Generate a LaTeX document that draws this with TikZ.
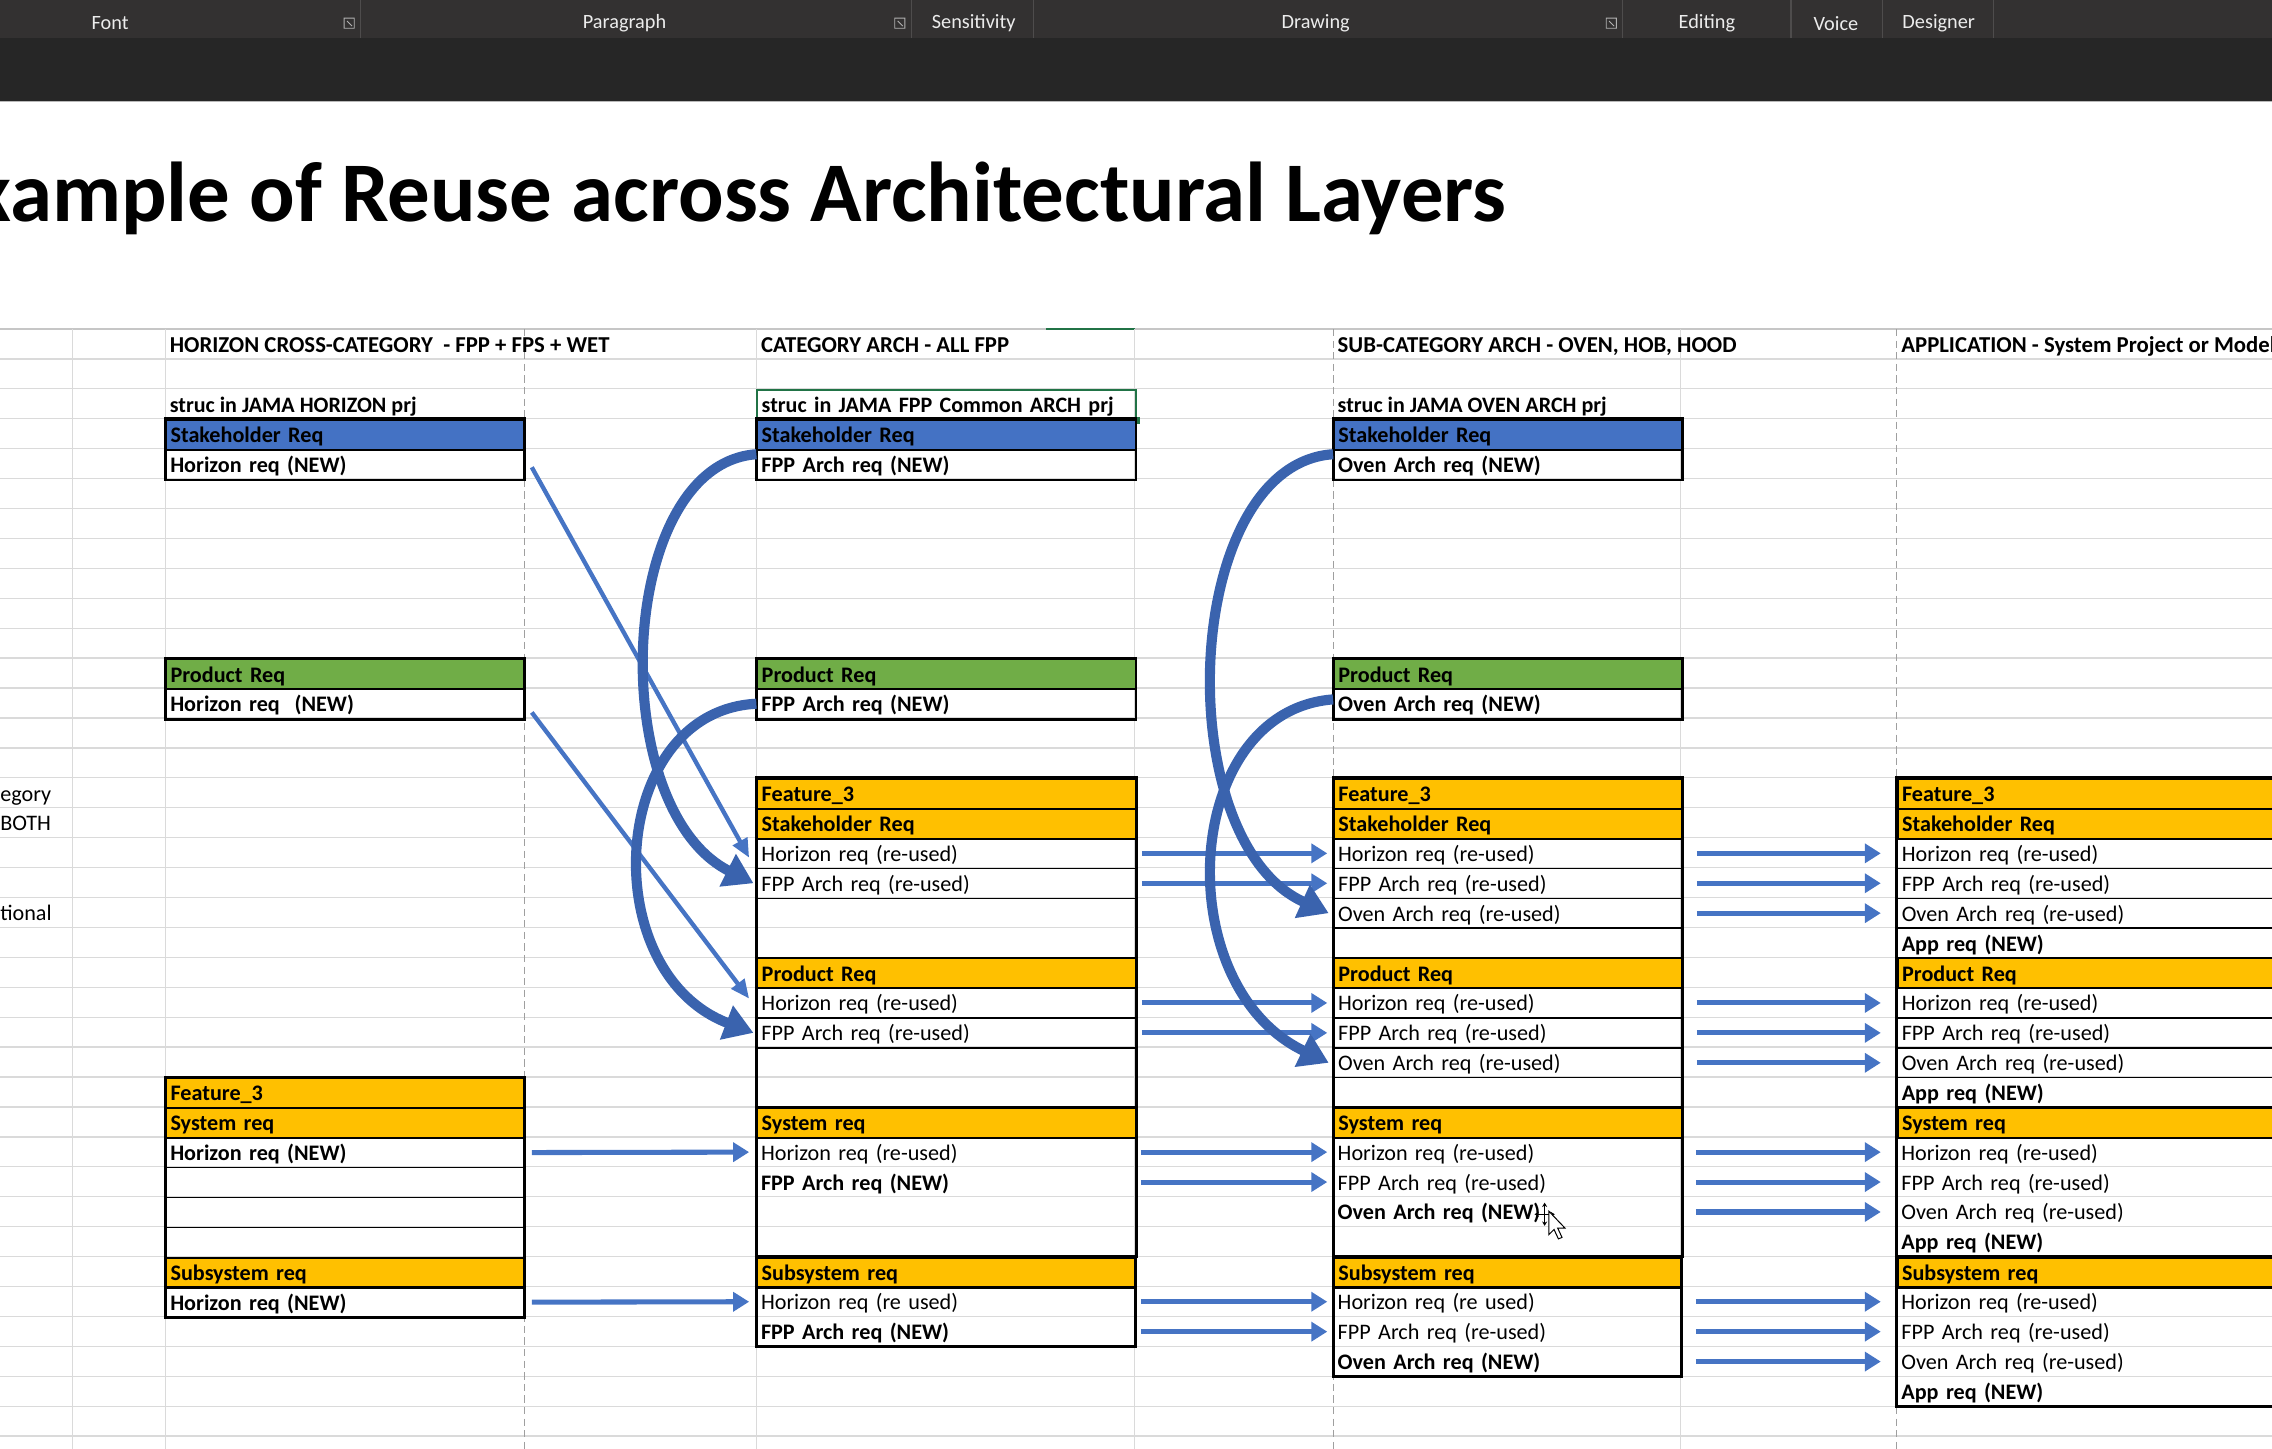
\documentclass[tikz,border=0pt]{standalone}
\usepackage{fontspec}
\setmainfont{Carlito}
\usepackage{xcolor}
\usepackage{tikz}
\usetikzlibrary{arrows.meta, positioning}
\definecolor{xlblue}{HTML}{4472C4}
\definecolor{xlgreen}{HTML}{70AD47}
\definecolor{xlgold}{HTML}{FFC000}
\definecolor{arrowblue}{HTML}{4674C4}
\definecolor{curveblue}{HTML}{3A63AE}
\definecolor{gridgray}{HTML}{DADADA}
\definecolor{ribbontop}{HTML}{333131}
\definecolor{ribbonlow}{HTML}{262626}
\definecolor{selgreen}{HTML}{217346}
\newcommand{\rowtop}[1]{289+(#1)*20.65}
\newcommand{\cellfont}{\fontsize{15.3}{16}\selectfont}
\newcommand{\headfont}{\fontsize{15.7}{16}\selectfont\bfseries}
\newcommand{\strucfont}{\fontsize{15.2}{16}\selectfont\bfseries}
\newcommand{\reqcell}[5]{\node[#4] (#1) at (#2,{\rowtop{#3}}) {#5};}
\tikzstyle{req} = [rectangle, anchor=north west, minimum height=20.65pt, inner ysep=0pt, inner xsep=3pt, text height=12pt, text depth=1pt, align=left, font=\cellfont]
\tikzstyle{new} = [font=\cellfont\bfseries]
\tikzstyle{reqline} = [req, draw=black, line width=1pt]
\tikzstyle{hdrblue} = [req, new, fill=xlblue, draw=black, line width=1.4pt]
\tikzstyle{hdrgreen} = [req, new, fill=xlgreen, draw=black, line width=1.4pt]
\tikzstyle{hdrgold} = [req, new, fill=xlgold, draw=black, line width=1.4pt]
\tikzstyle{hcol} = [text width=241pt]
\tikzstyle{ccol} = [text width=255pt]
\tikzstyle{scol} = [text width=234pt]
\tikzstyle{acol} = [text width=294pt]
\tikzstyle{blockframe} = [draw=black, line width=2pt]
\tikzstyle{gridline} = [draw=gridgray, line width=0.9pt]
\tikzstyle{pagebreak} = [draw=gray!75, line width=0.8pt, dash pattern=on 5pt off 3pt]
\tikzstyle{flow} = [draw=arrowblue, line width=3.5pt, -{Triangle[width=13pt,length=11pt]}]
\tikzstyle{cross} = [draw=arrowblue, line width=3pt, -{Triangle[width=11pt,length=13pt]}]
\tikzstyle{reuse} = [draw=curveblue, line width=7pt, -{Triangle[width=24pt,length=20pt]}]
\tikzstyle{ribbon} = [font=\fontsize{14}{14}\selectfont, text=gray!15, inner sep=0pt]
\begin{document}
\begin{tikzpicture}[x=1pt, y=-1pt]
		\useasboundingbox (0,0) rectangle (1568,1000);
		\clip (0,0) rectangle (1568,1000);
		% ribbon of the window
		\fill[ribbontop] (0,0) rectangle (1568,26.5);
		\fill[ribbonlow] (0,26.5) rectangle (1568,70);
		\draw[gray!55, line width=1pt] (0,70) -- (1568,70);
		\foreach \x in {249,629,713,1120,1236,1299,1376}
			\draw[gray!35!ribbontop, line width=0.8pt] (\x,0) -- (\x,26);
		\foreach \x in {241,621,1112}
			\draw[gray!60, line width=0.6pt] ({\x-3.5},12.5) rectangle ({\x+3.5},19.5) ({\x-1.5},14.5) -- ({\x+2},18);
		\node (Font)[ribbon] at (76,16) {Font};
		\node (Paragraph)[ribbon] at (431,16) {Paragraph};
		\node (Sensitivity)[ribbon] at (672,16) {Sensitivity};
		\node (Drawing)[ribbon] at (908,16) {Drawing};
		\node (Editing)[ribbon] at (1178,16) {Editing};
		\node (Voice)[ribbon] at (1267,16) {Voice};
		\node (Designer)[ribbon] at (1338,16) {Designer};
		% title
		\node (Title)[anchor=base east, inner sep=0pt, font=\fontsize{58.6}{60}\selectfont\bfseries] at (1040,153) {Example of Reuse across Architectural Layers};
		% sheet grid
		\foreach \r in {-2,...,34}
			\draw[gridline] (0,{\rowtop{\r}}) -- (1568,{\rowtop{\r}});
		\draw[gray!45, line width=1pt] (0,{\rowtop{-3}}) -- (1568,{\rowtop{-3}});
		\draw[selgreen, line width=1.2pt] (722,{\rowtop{-3}}) -- (783,{\rowtop{-3}});
		\foreach \x in {50,114,522,783,1160}
			\draw[gridline] (\x,{\rowtop{-3}}) -- (\x,1000);
		\foreach \x in {362,920,1309}
			\draw[pagebreak] (\x,{\rowtop{-3}}) -- (\x,1000);
		% cut-off notes on the left
		\reqcell{Note a}{-3}{12}{req}{egory}
		\reqcell{Note b}{-3}{13}{req}{BOTH}
		\reqcell{Note c}{-3}{16}{req}{tional}
		% column heads
		\reqcell{Horizon Head}{114}{-3}{req, font=\headfont}{HORIZON CROSS-CATEGORY\ \ - FPP + FPS + WET}
		\reqcell{Category Head}{522}{-3}{req, font=\headfont}{CATEGORY ARCH - ALL FPP}
		\reqcell{Sub Head}{920}{-3}{req, font=\headfont}{SUB-CATEGORY ARCH - OVEN, HOB, HOOD}
		\reqcell{App Head}{1309}{-3}{req, font=\headfont}{APPLICATION - System Project or Model}
		\reqcell{Horizon Struc}{114}{-1}{req, font=\strucfont}{struc in JAMA HORIZON prj}
		\reqcell{Category Struc}{522}{-1}{req, ccol, font=\strucfont, draw=selgreen, line width=1.4pt}{struc in JAMA FPP Common ARCH prj}
		\fill[selgreen] ([xshift=-2.5pt, yshift=-2.5pt]Category Struc.south east) rectangle ([xshift=2.5pt, yshift=2.5pt]Category Struc.south east);
		\reqcell{Sub Struc}{920}{-1}{req, font=\strucfont}{struc in JAMA OVEN ARCH prj}
		% horizon column
		\reqcell{H0}{114}{0}{hdrblue, hcol}{Stakeholder Req}
		\reqcell{H1}{114}{1}{reqline, new, hcol}{Horizon req (NEW)}
		\reqcell{H8}{114}{8}{hdrgreen, hcol}{Product Req}
		\reqcell{H9}{114}{9}{reqline, new, hcol}{Horizon req\ \ (NEW)}
		\reqcell{H22}{114}{22}{hdrgold, hcol}{Feature\_3}
		\reqcell{H23}{114}{23}{hdrgold, hcol}{System req}
		\reqcell{H24}{114}{24}{reqline, new, hcol}{Horizon req (NEW)}
		\reqcell{H25}{114}{25}{reqline, hcol}{}
		\reqcell{H26}{114}{26}{reqline, hcol}{}
		\reqcell{H27}{114}{27}{reqline, hcol}{}
		\reqcell{H28}{114}{28}{hdrgold, hcol}{Subsystem req}
		\reqcell{H29}{114}{29}{reqline, new, hcol}{Horizon req (NEW)}
		\draw[blockframe] (H0.north west) rectangle (H1.south east);
		\draw[blockframe] (H8.north west) rectangle (H9.south east);
		\draw[blockframe] (H22.north west) rectangle (H29.south east);
		% category column
		\reqcell{C0}{522}{0}{hdrblue, ccol}{Stakeholder Req}
		\reqcell{C1}{522}{1}{reqline, new, ccol}{FPP Arch req (NEW)}
		\reqcell{C8}{522}{8}{hdrgreen, ccol}{Product Req}
		\reqcell{C9}{522}{9}{reqline, new, ccol}{FPP Arch req (NEW)}
		\reqcell{C12}{522}{12}{hdrgold, ccol}{Feature\_3}
		\reqcell{C13}{522}{13}{hdrgold, ccol}{Stakeholder Req}
		\reqcell{C14}{522}{14}{reqline, ccol}{Horizon req (re-used)}
		\reqcell{C15}{522}{15}{reqline, ccol}{FPP Arch req (re-used)}
		\reqcell{C18}{522}{18}{hdrgold, ccol}{Product Req}
		\reqcell{C19}{522}{19}{reqline, ccol}{Horizon req (re-used)}
		\reqcell{C20}{522}{20}{reqline, ccol}{FPP Arch req (re-used)}
		\reqcell{C23}{522}{23}{hdrgold, ccol}{System req}
		\reqcell{C24}{522}{24}{req, ccol}{Horizon req (re-used)}
		\reqcell{C25}{522}{25}{req, new, ccol}{FPP Arch req (NEW)}
		\reqcell{C28}{522}{28}{hdrgold, ccol}{Subsystem req}
		\reqcell{C29}{522}{29}{req, ccol}{Horizon req (re used)}
		\reqcell{C30}{522}{30}{req, new, ccol}{FPP Arch req (NEW)}
		\draw[blockframe] (C0.north west) rectangle (C1.south east);
		\draw[blockframe] (C8.north west) rectangle (C9.south east);
		\draw[blockframe] (C12.north west) rectangle (C23.north east);
		\draw[blockframe] (C23.north west) rectangle (C28.north east);
		\draw[blockframe] (C28.north west) rectangle (C30.south east);
		% sub-category column
		\reqcell{S0}{920}{0}{hdrblue, scol}{Stakeholder Req}
		\reqcell{S1}{920}{1}{reqline, new, scol}{Oven Arch req (NEW)}
		\reqcell{S8}{920}{8}{hdrgreen, scol}{Product Req}
		\reqcell{S9}{920}{9}{reqline, new, scol}{Oven Arch req (NEW)}
		\reqcell{S12}{920}{12}{hdrgold, scol}{Feature\_3}
		\reqcell{S13}{920}{13}{hdrgold, scol}{Stakeholder Req}
		\reqcell{S14}{920}{14}{reqline, scol}{Horizon req (re-used)}
		\reqcell{S15}{920}{15}{reqline, scol}{FPP Arch req (re-used)}
		\reqcell{S16}{920}{16}{reqline, scol}{Oven Arch req (re-used)}
		\reqcell{S18}{920}{18}{hdrgold, scol}{Product Req}
		\reqcell{S19}{920}{19}{reqline, scol}{Horizon req (re-used)}
		\reqcell{S20}{920}{20}{reqline, scol}{FPP Arch req (re-used)}
		\reqcell{S21}{920}{21}{reqline, scol}{Oven Arch req (re-used)}
		\reqcell{S23}{920}{23}{hdrgold, scol}{System req}
		\reqcell{S24}{920}{24}{req, scol}{Horizon req (re-used)}
		\reqcell{S25}{920}{25}{req, scol}{FPP Arch req (re-used)}
		\reqcell{S26}{920}{26}{req, new, scol}{Oven Arch req (NEW)}
		\reqcell{S28}{920}{28}{hdrgold, scol}{Subsystem req}
		\reqcell{S29}{920}{29}{req, scol}{Horizon req (re used)}
		\reqcell{S30}{920}{30}{req, scol}{FPP Arch req (re-used)}
		\reqcell{S31}{920}{31}{req, new, scol}{Oven Arch req (NEW)}
		\draw[blockframe] (S0.north west) rectangle (S1.south east);
		\draw[blockframe] (S8.north west) rectangle (S9.south east);
		\draw[blockframe] (S12.north west) rectangle (S23.north east);
		\draw[blockframe] (S23.north west) rectangle (S28.north east);
		\draw[blockframe] (S28.north west) rectangle (S31.south east);
		% application column
		\reqcell{A12}{1309}{12}{hdrgold, acol}{Feature\_3}
		\reqcell{A13}{1309}{13}{hdrgold, acol}{Stakeholder Req}
		\reqcell{A14}{1309}{14}{reqline, acol}{Horizon req (re-used)}
		\reqcell{A15}{1309}{15}{reqline, acol}{FPP Arch req (re-used)}
		\reqcell{A16}{1309}{16}{reqline, acol}{Oven Arch req (re-used)}
		\reqcell{A17}{1309}{17}{reqline, new, acol}{App req (NEW)}
		\reqcell{A18}{1309}{18}{hdrgold, acol}{Product Req}
		\reqcell{A19}{1309}{19}{reqline, acol}{Horizon req (re-used)}
		\reqcell{A20}{1309}{20}{reqline, acol}{FPP Arch req (re-used)}
		\reqcell{A21}{1309}{21}{reqline, acol}{Oven Arch req (re-used)}
		\reqcell{A22}{1309}{22}{reqline, new, acol}{App req (NEW)}
		\reqcell{A23}{1309}{23}{hdrgold, acol}{System req}
		\reqcell{A24}{1309}{24}{req, acol}{Horizon req (re-used)}
		\reqcell{A25}{1309}{25}{req, acol}{FPP Arch req (re-used)}
		\reqcell{A26}{1309}{26}{req, acol}{Oven Arch req (re-used)}
		\reqcell{A27}{1309}{27}{req, new, acol}{App req (NEW)}
		\reqcell{A28}{1309}{28}{hdrgold, acol}{Subsystem req}
		\reqcell{A29}{1309}{29}{req, acol}{Horizon req (re-used)}
		\reqcell{A30}{1309}{30}{req, acol}{FPP Arch req (re-used)}
		\reqcell{A31}{1309}{31}{req, acol}{Oven Arch req (re-used)}
		\reqcell{A32}{1309}{32}{req, new, acol}{App req (NEW)}
		\draw[blockframe] (A12.north west) rectangle (A23.north east);
		\draw[blockframe] (A23.north west) rectangle (A28.north east);
		\draw[blockframe] (A28.north west) rectangle (A32.south east);
		% straight re-use arrows
		\foreach \r in {24,29}
			\draw[flow] ([xshift=5pt]H\r.east) -- ([xshift=-5pt]C\r.west);
		\foreach \r in {14,15,19,20,24,25,29,30}
			\draw[flow] ([xshift=4pt]C\r.east) -- ([xshift=-4pt]S\r.west);
		\foreach \r in {14,15,16,19,20,21,24,25,26,29,30,31}
			\draw[flow] ([xshift=10pt]S\r.east) -- ([xshift=-11pt]A\r.west);
		% horizon reqs pulled down
		\draw[cross] ([xshift=5pt, yshift=-2pt]H1.east) -- ([xshift=-5pt, yshift=-3pt]C14.west);
		\draw[cross] ([xshift=5pt, yshift=-6pt]H9.east) -- ([xshift=-5pt, yshift=3pt]C19.west);
		% own reqs pulled down
		\draw[reuse] ([yshift=7pt]C1.west) .. controls +(-97,7) and +(-103,-52) .. ([xshift=-2pt]C15.west);
		\draw[reuse] (C9.west) .. controls +(-102,5) and +(-110,-42) .. ([xshift=-2pt]C20.west);
		\draw[reuse] ([yshift=7pt]S1.west) .. controls +(-105,7) and +(-111,-50) .. ([xshift=-3pt]S16.west);
		\draw[reuse] ([yshift=3pt]S9.west) .. controls +(-105,8) and +(-111,-53) .. ([xshift=-3pt]S21.west);
		% mouse pointer
		\draw[line width=0.7pt, {Stealth[length=3pt,width=3.5pt]}-{Stealth[length=3pt,width=3.5pt]}] (1059,838) -- (1073,838);
		\draw[line width=0.7pt, {Stealth[length=3pt,width=3.5pt]}-{Stealth[length=3pt,width=3.5pt]}] (1066,830) -- (1066,846);
		\draw[line width=0.7pt, fill=white] (1069,836) -- (1069,852) -- (1072.5,848.5) -- (1075.5,855) -- (1078,854) -- (1075,847.5) -- (1080,847.5) -- cycle;
	\end{tikzpicture}
\end{document}
